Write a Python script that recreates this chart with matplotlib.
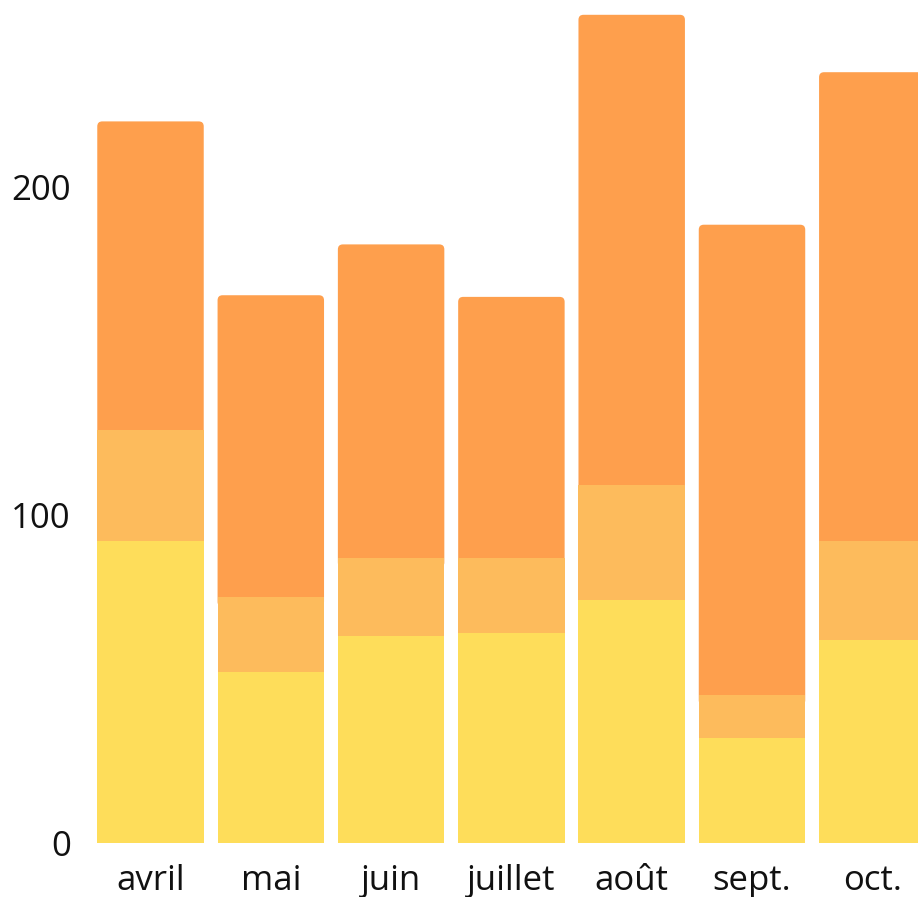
import matplotlib
matplotlib.use("Agg")
import matplotlib.pyplot as plt
from matplotlib.patches import FancyBboxPatch

plt.rcParams['font.family'] = ['Open Sans', 'DejaVu Sans']

# Données
mois = ["avril", "mai", "juin", "juillet", "août", "sept.", "oct."]
bas = [92, 52, 63, 64, 74, 32, 62]
milieu = [34, 23, 24, 23, 35, 13, 30]
totaux = [220, 167, 182.5, 166.5, 252.5, 188.5, 235]

c_bas = "#FEDD5A"
c_mil = "#FDBB5C"
c_haut = "#FE9F4D"

W, H = 918, 897
fig = plt.figure(figsize=(W / 100, H / 100), dpi=100)

px_x = 120.3          # pixels per category
px_y = 3.28           # pixels per unit
ymax = 260
left_px = 150.5 - 0.5 * px_x
bottom_px = 843
ax = fig.add_axes([left_px / W, (H - bottom_px) / H,
                   7 * px_x / W, ymax * px_y / H])
ax.set_xlim(-0.5, 6.5)
ax.set_ylim(0, ymax)

width = 0.885
x = list(range(len(mois)))
rx = 5 / px_x
ry = 5 / px_y

for i in x:
    b, m, t = bas[i], milieu[i], totaux[i]
    # top segment with rounded top corners (extends under the middle one)
    patch = FancyBboxPatch((i - width / 2, b + m - 3), width, t - (b + m - 3),
                           boxstyle=f"round,pad=0,rounding_size={rx}",
                           mutation_aspect=ry / rx,
                           facecolor=c_haut, edgecolor="none", zorder=1)
    ax.add_patch(patch)

ax.bar(x, milieu, width, bottom=bas, color=c_mil, zorder=2, linewidth=0)
ax.bar(x, bas, width, color=c_bas, zorder=2, linewidth=0)

ax.set_xticks(x)
ax.set_xticklabels(mois)
ax.set_yticks([0, 100, 200])
ax.tick_params(axis="both", length=0, labelsize=25, colors="#111111")
ax.tick_params(axis="x", pad=15)
ax.tick_params(axis="y", pad=14)
for s in ax.spines.values():
    s.set_visible(False)

fig.savefig("out.png", dpi=100)
